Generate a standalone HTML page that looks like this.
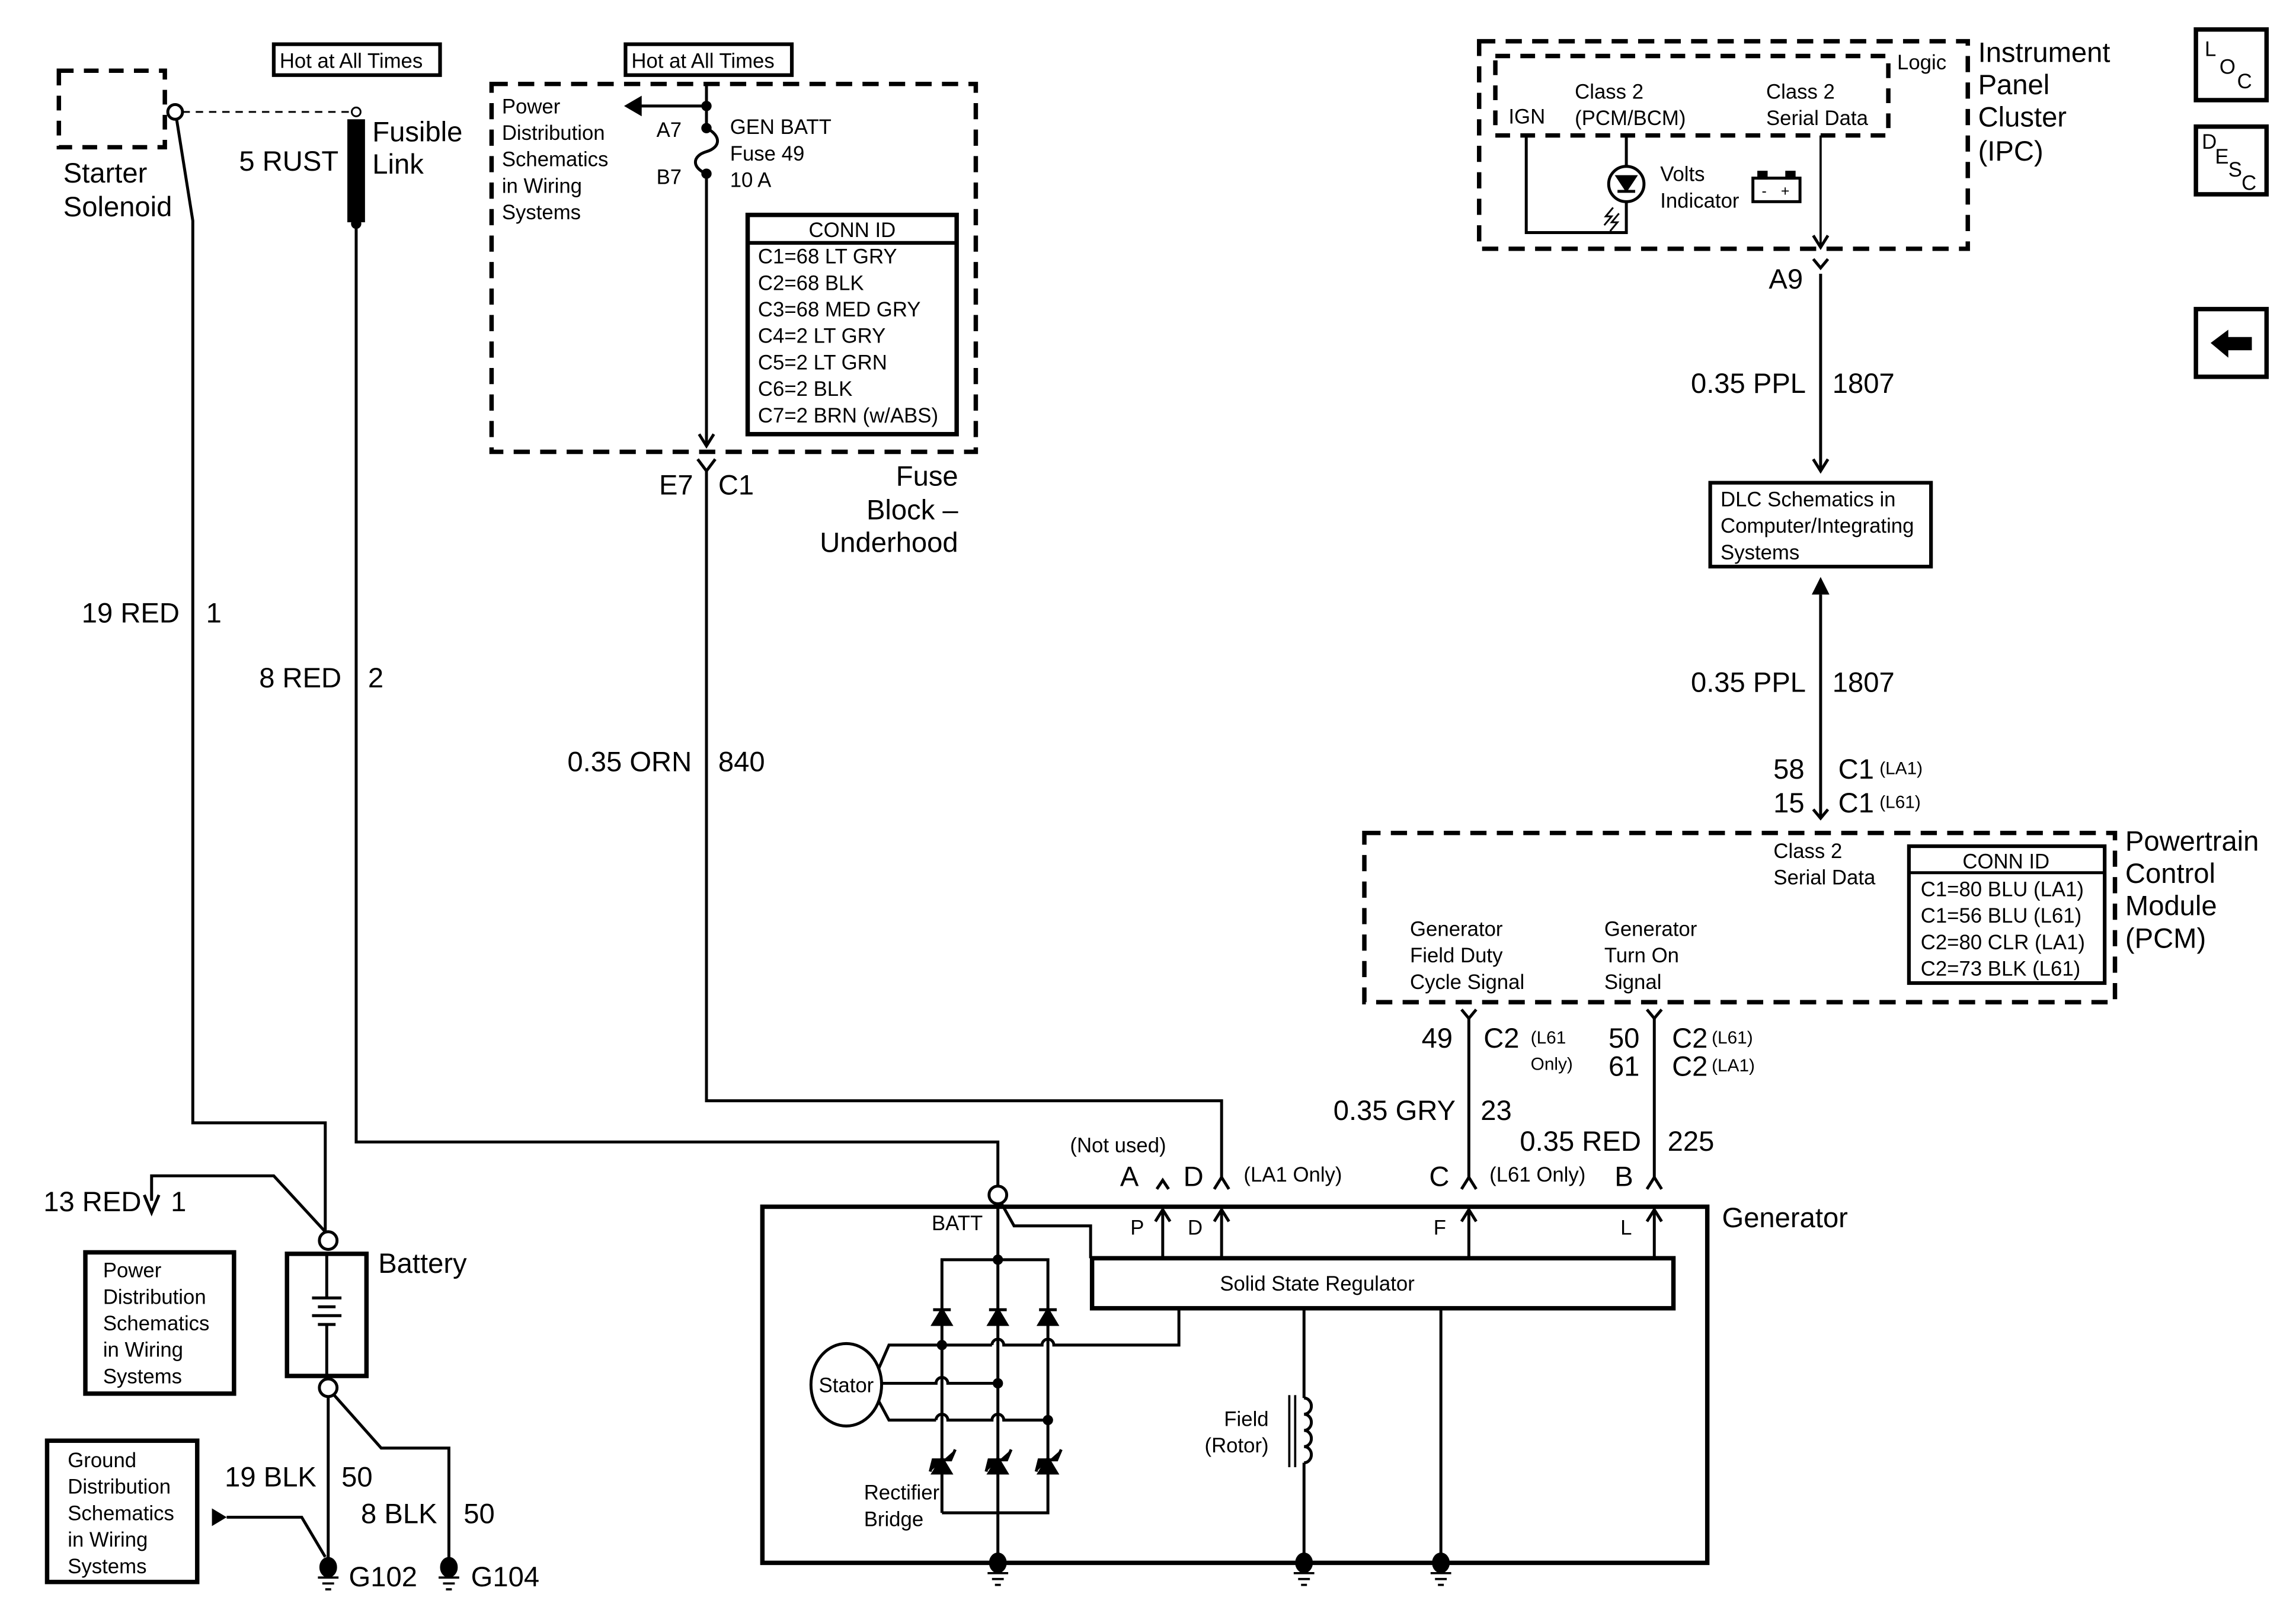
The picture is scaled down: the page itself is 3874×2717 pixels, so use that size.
<!DOCTYPE html>
<html><head><meta charset="utf-8"><style>
html,body{margin:0;padding:0;background:#fff}
svg{display:block}
text{font-family:"Liberation Sans",sans-serif;fill:#000}
.s{font-size:14px}.m{font-size:19px}.xs{font-size:12px}
</style></head><body>
<svg width="3874" height="2717" viewBox="0 0 1560 1094" xmlns="http://www.w3.org/2000/svg">
<g fill="none" stroke="#000" stroke-width="2">
<rect x="40" y="48" width="72" height="52" stroke-width="3" stroke-dasharray="10,7"/>
<circle cx="119" cy="76" r="5" fill="#fff"/>
<line x1="124" y1="76" x2="239" y2="76" stroke-width="1.2" stroke-dasharray="5,4"/>
<circle cx="242" cy="76" r="3" fill="#fff" stroke-width="1.2"/>
<rect x="237" y="82" width="10" height="68" fill="#000"/>
<circle cx="242" cy="152" r="2.5" fill="#000"/>
<polyline points="242,152 242,776 678,776 678,806"/>
<circle cx="678" cy="812" r="6" fill="#fff"/>
<polyline points="120,81 131,150 131,763 221,763 221,837"/>
<rect x="186" y="30" width="113" height="21" stroke-width="2.5"/>
<rect x="425" y="30" width="113" height="21" stroke-width="2.5"/>
<rect x="334" y="57" width="329" height="250" stroke-width="3" stroke-dasharray="11,7"/>
<line x1="480" y1="57" x2="480" y2="86"/>
<polyline points="480,72 435,72"/>
<polygon points="424,72 436,65 436,79" fill="#000" stroke="none"/>
<circle cx="480" cy="72" r="2.5" fill="#000"/>
<circle cx="480" cy="87" r="2.5" fill="#000"/>
<path d="M480,87 C490,92 490,100 480,103 C470,106 470,114 480,118"/>
<circle cx="480" cy="118" r="2.5" fill="#000"/>
<line x1="480" y1="118" x2="480" y2="303"/>
<polyline points="475,295 480,303 485,295"/>
<rect x="508" y="146" width="142" height="149" stroke-width="3"/>
<line x1="508" y1="165" x2="650" y2="165" stroke-width="2.5"/>
<polyline points="474,312 480,320 486,312"/>
<polyline points="480,320 480,748 830,748 830,800"/>
<rect x="518" y="820" width="642" height="242" stroke-width="3"/>
<rect x="742" y="855" width="395" height="34" stroke-width="3"/>
<polyline points="680,817 689,833 741,833 741,855"/>
<line x1="678" y1="818" x2="678" y2="1062"/>
<line x1="790" y1="855" x2="790" y2="823"/><polyline points="785,830 790,822 795,830"/>
<line x1="830" y1="855" x2="830" y2="823"/><polyline points="825,830 830,822 835,830"/>
<line x1="998" y1="855" x2="998" y2="823"/><polyline points="993,830 998,822 1003,830"/>
<line x1="1124" y1="855" x2="1124" y2="823"/><polyline points="1119,830 1124,822 1129,830"/>
<polyline points="786,808 790,802 794,808"/>
<polyline points="825,808 830,800 835,808"/>
<polyline points="993,808 998,800 1003,808"/>
<polyline points="1119,808 1124,800 1129,808"/>
<line x1="998" y1="800" x2="998" y2="692"/>
<line x1="1124" y1="800" x2="1124" y2="692"/>
<polyline points="993,686 998,692 1003,686"/>
<polyline points="1119,686 1124,692 1129,686"/>
<polyline points="640,1028 640,856 712,856 712,1028 640,1028"/>
<circle cx="678" cy="856" r="2.5" fill="#000"/>
<path d="M640,900 l-6,0 l6,-10 l6,10z M634,890 l12,0" fill="#000"/>
<path d="M678,900 l-6,0 l6,-10 l6,10z M672,890 l12,0" fill="#000"/>
<path d="M712,900 l-6,0 l6,-10 l6,10z M706,890 l12,0" fill="#000"/>
<path d="M640,1001 l-6,0 l6,-10 l6,10z M632,1000 l2,-8 l12,0 l3,-7" fill="#000"/>
<path d="M678,1001 l-6,0 l6,-10 l6,10z M670,1000 l2,-8 l12,0 l3,-7" fill="#000"/>
<path d="M712,1001 l-6,0 l6,-10 l6,10z M704,1000 l2,-8 l12,0 l3,-7" fill="#000"/>
<ellipse cx="575" cy="941" rx="24" ry="28" fill="#fff"/>
<polyline points="597,930 604,914 674,914"/>
<path d="M674,914 a4,4 0 0 1 8,0 L708,914 a4,4 0 0 1 8,0 L801,914 801,890"/>
<circle cx="640" cy="914" r="2.5" fill="#000"/>
<path d="M599,940 L636,940 a4,4 0 0 1 8,0 L678,940"/>
<circle cx="678" cy="940" r="2.5" fill="#000"/>
<polyline points="597,952 604,965 636,965"/>
<path d="M636,965 a4,4 0 0 1 8,0 L674,965 a4,4 0 0 1 8,0 L712,965"/>
<circle cx="712" cy="965" r="2.5" fill="#000"/>
<line x1="886" y1="889" x2="886" y2="950"/>
<path d="M886,950 a5,5.5 0 0 1 0,11 a5,5.5 0 0 1 0,11 a5,5.5 0 0 1 0,11 a5,5.5 0 0 1 0,11"/>
<line x1="886" y1="994" x2="886" y2="1062"/>
<line x1="876" y1="948" x2="876" y2="997" stroke-width="1.5"/>
<line x1="880" y1="948" x2="880" y2="997" stroke-width="1.5"/>
<line x1="979" y1="889" x2="979" y2="1062"/>
<g fill="#000">
<ellipse cx="678" cy="1062" rx="5" ry="6"/><ellipse cx="886" cy="1062" rx="5" ry="6"/><ellipse cx="979" cy="1062" rx="5" ry="6"/>
<ellipse cx="223" cy="1065" rx="5" ry="6"/><ellipse cx="305" cy="1065" rx="5" ry="6"/>
</g>
<path d="M671,1069h14M674,1073h8M676,1077h4 M879,1069h14M882,1073h8M884,1077h4 M972,1069h14M975,1073h8M977,1077h4 M216,1072h14M219,1076h8M221,1080h4 M298,1072h14M301,1076h8M303,1080h4" stroke-width="1.5"/>
<rect x="927" y="566" width="510" height="115" stroke-width="3" stroke-dasharray="11,7"/>
<rect x="1297" y="575" width="133" height="93" stroke-width="2.5"/>
<line x1="1297" y1="593" x2="1430" y2="593" stroke-width="2"/>
<line x1="1237" y1="556" x2="1237" y2="404"/>
<polyline points="1232,550 1237,556 1242,550"/>
<polygon points="1237,392 1231,404 1243,404" fill="#000" stroke="none"/>
<rect x="1162" y="328" width="150" height="57" stroke-width="2.5"/>
<line x1="1237" y1="186" x2="1237" y2="320"/>
<polyline points="1232,312 1237,320 1242,312"/>
<polyline points="1232,176 1237,182 1242,176"/>
<rect x="1005" y="28" width="332" height="141" stroke-width="3" stroke-dasharray="11,7"/>
<rect x="1016" y="38" width="267" height="54" stroke-width="3" stroke-dasharray="10,7"/>
<polyline points="1037,92 1037,158 1105,158 1105,137"/>
<line x1="1105" y1="92" x2="1105" y2="113"/>
<circle cx="1105" cy="125" r="12"/>
<path d="M1099,120 h12 l-6,9z" fill="#000"/>
<line x1="1099" y1="130" x2="1111" y2="130"/>
<path d="M1096,141 l-5,6 l4,0 l-5,6 M1100,145 l-5,6 l4,0 l-5,6" stroke-width="1.2"/>
<line x1="1237" y1="92" x2="1237" y2="168" stroke-width="1.5"/>
<polyline points="1232,160 1237,168 1242,160"/>
<rect x="1191" y="121" width="32" height="16" stroke-width="2"/>
<rect x="1195" y="117" width="5" height="4" fill="#000"/><rect x="1214" y="117" width="5" height="4" fill="#000"/>
<rect x="1492" y="20" width="48" height="48" stroke-width="3"/>
<rect x="1492" y="86" width="48" height="46" stroke-width="3"/>
<rect x="1492" y="210" width="48" height="46" stroke-width="3"/>
<polygon points="1502,233 1514,224 1514,229 1530,229 1530,238 1514,238 1514,243" fill="#000" stroke="none"/>
<polyline points="221,837 186,799 103,799 103,816"/>
<polyline points="98,812 103,824 108,812"/>
<rect x="58" y="851" width="101" height="96" stroke-width="3"/>
<circle cx="223" cy="843" r="6" fill="#fff"/>
<rect x="195" y="852" width="54" height="83" stroke-width="3"/>
<line x1="222" y1="852" x2="222" y2="882"/><line x1="212" y1="882" x2="232" y2="882"/>
<line x1="216" y1="888" x2="228" y2="888"/><line x1="212" y1="894" x2="232" y2="894"/><line x1="216" y1="900" x2="228" y2="900"/>
<line x1="222" y1="900" x2="222" y2="935"/>
<circle cx="223" cy="943" r="6" fill="#fff"/>
<line x1="223" y1="949" x2="223" y2="1065"/>
<polyline points="227,948 259,984 305,984 305,1065"/>
<rect x="32" y="979" width="102" height="96" stroke-width="3"/>
<polygon points="154,1031 144,1025 144,1037" fill="#000" stroke="none"/>
<polyline points="154,1031 205,1031 221,1058"/>
</g>
<text class="m" x="43" y="124">Starter</text><text class="m" x="43" y="147">Solenoid</text>
<text class="s" x="190" y="46">Hot at All Times</text><text class="s" x="429" y="46">Hot at All Times</text>
<text class="m" x="230" y="116" text-anchor="end">5 RUST</text>
<text class="m" x="253" y="96">Fusible</text><text class="m" x="253" y="118">Link</text>
<g class="s"><text x="341" y="77">Power</text><text x="341" y="95">Distribution</text><text x="341" y="113">Schematics</text><text x="341" y="131">in Wiring</text><text x="341" y="149">Systems</text>
<text x="446" y="93">A7</text><text x="446" y="125">B7</text>
<text x="496" y="91">GEN BATT</text><text x="496" y="109">Fuse 49</text><text x="496" y="127">10 A</text>
<text x="579" y="161" text-anchor="middle">CONN ID</text>
<text x="515" y="179">C1=68 LT GRY</text><text x="515" y="197">C2=68 BLK</text><text x="515" y="215">C3=68 MED GRY</text><text x="515" y="233">C4=2 LT GRY</text><text x="515" y="251">C5=2 LT GRN</text><text x="515" y="269">C6=2 BLK</text><text x="515" y="287">C7=2 BRN (w/ABS)</text></g>
<text class="m" x="471" y="336" text-anchor="end">E7</text><text class="m" x="488" y="336">C1</text>
<text class="m" x="651" y="330" text-anchor="end">Fuse</text><text class="m" x="651" y="353" text-anchor="end">Block –</text><text class="m" x="651" y="375" text-anchor="end">Underhood</text>
<text class="m" x="122" y="423" text-anchor="end">19 RED</text><text class="m" x="140" y="423">1</text>
<text class="m" x="232" y="467" text-anchor="end">8 RED</text><text class="m" x="250" y="467">2</text>
<text class="m" x="470" y="524" text-anchor="end">0.35 ORN</text><text class="m" x="488" y="524">840</text>
<text class="s" x="727" y="783">(Not used)</text>
<text class="m" x="761" y="806">A</text><text class="m" x="804" y="806">D</text><text class="s" x="845" y="803">(LA1 Only)</text>
<text class="m" x="971" y="806">C</text><text class="s" x="1012" y="803">(L61 Only)</text>
<text class="m" x="1097" y="806">B</text>
<text class="m" x="1170" y="834">Generator</text>
<text class="s" x="633" y="836">BATT</text>
<text class="s" x="768" y="839">P</text><text class="s" x="807" y="839">D</text><text class="s" x="974" y="839">F</text><text class="s" x="1101" y="839">L</text>
<text class="s" x="895" y="877" text-anchor="middle">Solid State Regulator</text>
<text class="s" x="575" y="946" text-anchor="middle">Stator</text>
<text class="s" x="587" y="1019">Rectifier</text><text class="s" x="587" y="1037">Bridge</text>
<text class="s" x="862" y="969" text-anchor="end">Field</text><text class="s" x="862" y="987" text-anchor="end">(Rotor)</text>
<g class="s"><text x="1205" y="583">Class 2</text><text x="1205" y="601">Serial Data</text>
<text x="1363" y="590" text-anchor="middle">CONN ID</text>
<text x="1305" y="609">C1=80 BLU (LA1)</text><text x="1305" y="627">C1=56 BLU (L61)</text><text x="1305" y="645">C2=80 CLR (LA1)</text><text x="1305" y="663">C2=73 BLK (L61)</text>
<text x="958" y="636">Generator</text><text x="958" y="654">Field Duty</text><text x="958" y="672">Cycle Signal</text>
<text x="1090" y="636">Generator</text><text x="1090" y="654">Turn On</text><text x="1090" y="672">Signal</text></g>
<text class="m" x="1444" y="578">Powertrain</text><text class="m" x="1444" y="600">Control</text><text class="m" x="1444" y="622">Module</text><text class="m" x="1444" y="644">(PCM)</text>
<text class="m" x="987" y="712" text-anchor="end">49</text><text class="m" x="1008" y="712">C2</text><text class="xs" x="1040" y="709">(L61</text><text class="xs" x="1040" y="727">Only)</text>
<text class="m" x="1114" y="712" text-anchor="end">50</text><text class="m" x="1114" y="731" text-anchor="end">61</text>
<text class="m" x="1136" y="712">C2</text><text class="xs" x="1163" y="709">(L61)</text>
<text class="m" x="1136" y="731">C2</text><text class="xs" x="1163" y="728">(LA1)</text>
<text class="m" x="989" y="761" text-anchor="end">0.35 GRY</text><text class="m" x="1006" y="761">23</text>
<text class="m" x="1115" y="782" text-anchor="end">0.35 RED</text><text class="m" x="1133" y="782">225</text>
<text class="m" x="1226" y="529" text-anchor="end">58</text><text class="m" x="1249" y="529">C1</text><text class="xs" x="1277" y="526">(LA1)</text>
<text class="m" x="1226" y="552" text-anchor="end">15</text><text class="m" x="1249" y="552">C1</text><text class="xs" x="1277" y="549">(L61)</text>
<text class="m" x="1227" y="470" text-anchor="end">0.35 PPL</text><text class="m" x="1245" y="470">1807</text>
<g class="s"><text x="1169" y="344">DLC Schematics in</text><text x="1169" y="362">Computer/Integrating</text><text x="1169" y="380">Systems</text></g>
<text class="m" x="1227" y="267" text-anchor="end">0.35 PPL</text><text class="m" x="1245" y="267">1807</text>
<text class="m" x="1225" y="196" text-anchor="end">A9</text>
<g class="s"><text x="1289" y="47">Logic</text><text x="1025" y="84">IGN</text>
<text x="1070" y="67">Class 2</text><text x="1070" y="85">(PCM/BCM)</text>
<text x="1200" y="67">Class 2</text><text x="1200" y="85">Serial Data</text>
<text x="1128" y="123">Volts</text><text x="1128" y="141">Indicator</text></g>
<text x="1197" y="133" style="font-size:10px">-</text><text x="1210" y="133" style="font-size:10px">+</text>
<text class="m" x="1344" y="42">Instrument</text><text class="m" x="1344" y="64">Panel</text><text class="m" x="1344" y="86">Cluster</text><text class="m" x="1344" y="109">(IPC)</text>
<text class="s" x="1498" y="38">L</text><text class="s" x="1508" y="50">O</text><text class="s" x="1520" y="60">C</text>
<text class="s" x="1496" y="101">D</text><text class="s" x="1505" y="111">E</text><text class="s" x="1514" y="120">S</text><text class="s" x="1523" y="129">C</text>
<text class="m" x="96" y="823" text-anchor="end">13 RED</text><text class="m" x="116" y="823">1</text>
<g class="s"><text x="70" y="868">Power</text><text x="70" y="886">Distribution</text><text x="70" y="904">Schematics</text><text x="70" y="922">in Wiring</text><text x="70" y="940">Systems</text></g>
<text class="m" x="257" y="865">Battery</text>
<text class="m" x="215" y="1010" text-anchor="end">19 BLK</text><text class="m" x="232" y="1010">50</text>
<text class="m" x="297" y="1035" text-anchor="end">8 BLK</text><text class="m" x="315" y="1035">50</text>
<g class="s"><text x="46" y="997">Ground</text><text x="46" y="1015">Distribution</text><text x="46" y="1033">Schematics</text><text x="46" y="1051">in Wiring</text><text x="46" y="1069">Systems</text></g>
<text class="m" x="237" y="1078">G102</text><text class="m" x="320" y="1078">G104</text>
</svg>
</body></html>
